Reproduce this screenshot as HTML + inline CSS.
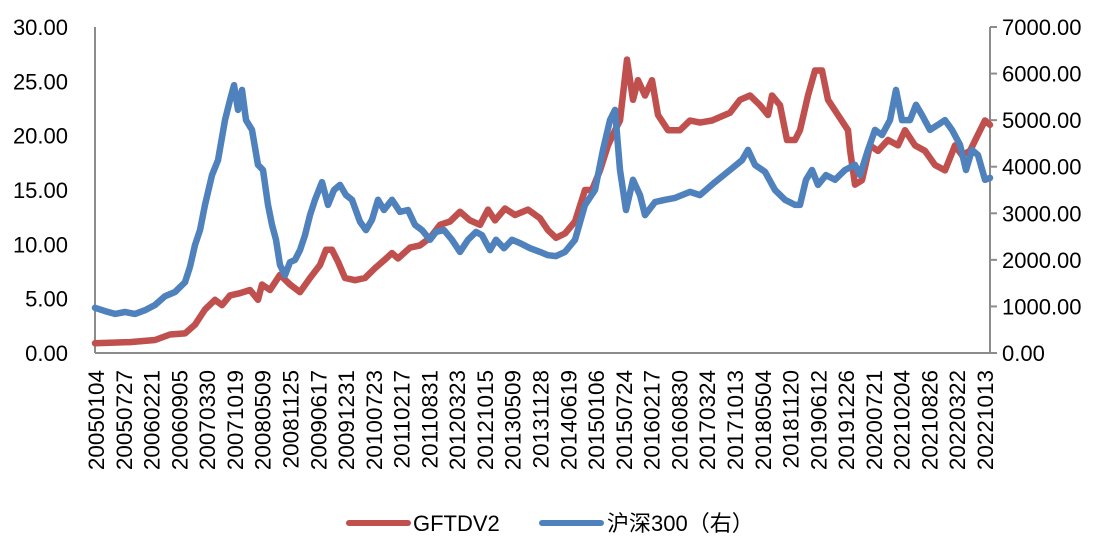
<!DOCTYPE html>
<html><head><meta charset="utf-8"><style>
html,body{margin:0;padding:0;background:#fff;}
svg{display:block;font-family:"Liberation Sans","Noto Sans CJK SC",sans-serif;}
</style></head><body>
<svg id="chart" width="1113" height="546" viewBox="0 0 1113 546"></svg>
<script>
const dateLabels=["20050104","20050727","20060221","20060905","20070330","20071019","20080509","20081125","20090617","20091231","20100723","20110217","20110831","20120323","20121015","20130509","20131128","20140619","20150106","20150724","20160217","20160830","20170324","20171013","20180504","20181120","20190612","20191226","20200721","20210204","20210826","20220322","20221013"];
const leftTicks=[0,5,10,15,20,25,30];
const rightTicks=[0,1000,2000,3000,4000,5000,6000,7000];
const gfYears=[2005.0,2005.7,2006.2,2006.5,2006.8,2007.0,2007.2,2007.4,2007.54,2007.7,2007.9,2008.1,2008.26,2008.34,2008.5,2008.7,2008.9,2009.1,2009.3,2009.5,2009.62,2009.74,2009.86,2010.0,2010.2,2010.4,2010.6,2010.8,2010.94,2011.06,2011.3,2011.5,2011.7,2011.9,2012.1,2012.3,2012.5,2012.7,2012.86,2013.0,2013.2,2013.4,2013.66,2013.9,2014.06,2014.22,2014.4,2014.6,2014.8,2014.94,2015.1,2015.26,2015.4,2015.5,2015.64,2015.76,2015.86,2016.0,2016.14,2016.26,2016.46,2016.7,2016.9,2017.1,2017.34,2017.7,2017.9,2018.1,2018.3,2018.46,2018.54,2018.7,2018.84,2019.0,2019.1,2019.26,2019.4,2019.54,2019.66,2019.86,2020.06,2020.1,2020.2,2020.34,2020.5,2020.66,2020.86,2021.06,2021.2,2021.4,2021.6,2021.8,2022.0,2022.2,2022.34,2022.5,2022.66,2022.8,2022.9];
const gfValues=[0.9,1.0,1.2,1.7,1.8,2.6,4.0,4.9,4.4,5.3,5.5,5.8,4.9,6.3,5.8,7.2,6.3,5.6,6.9,8.1,9.5,9.5,8.4,6.9,6.7,6.9,7.8,8.6,9.2,8.7,9.7,9.9,10.6,11.8,12.1,13.0,12.2,11.8,13.2,12.2,13.3,12.7,13.2,12.4,11.3,10.6,11.0,12.1,15.0,15.0,16.8,19.1,20.5,21.4,27.0,23.3,25.1,23.7,25.1,21.9,20.5,20.5,21.4,21.2,21.4,22.1,23.3,23.7,22.8,21.9,23.7,22.8,19.6,19.6,20.5,23.7,26.0,26.0,23.3,21.9,20.5,18.7,15.5,15.9,19.1,18.6,19.6,19.1,20.5,19.1,18.6,17.3,16.8,19.1,18.2,18.6,20.1,21.4,21.0];
const hsYears=[2005.0,2005.2,2005.4,2005.6,2005.8,2006.0,2006.2,2006.4,2006.6,2006.8,2006.9,2007.0,2007.1,2007.2,2007.34,2007.46,2007.6,2007.7,2007.78,2007.86,2007.94,2008.02,2008.14,2008.26,2008.36,2008.46,2008.54,2008.62,2008.7,2008.8,2008.9,2009.0,2009.1,2009.2,2009.3,2009.4,2009.54,2009.66,2009.78,2009.9,2010.02,2010.14,2010.3,2010.42,2010.54,2010.66,2010.78,2010.94,2011.1,2011.26,2011.4,2011.54,2011.7,2011.82,2011.98,2012.14,2012.3,2012.46,2012.62,2012.74,2012.9,2013.02,2013.18,2013.34,2013.5,2013.7,2013.9,2014.06,2014.22,2014.4,2014.6,2014.8,2015.0,2015.16,2015.3,2015.4,2015.5,2015.62,2015.76,2015.9,2016.0,2016.2,2016.4,2016.6,2016.9,2017.1,2017.4,2017.7,2017.94,2018.06,2018.2,2018.4,2018.6,2018.8,2019.0,2019.1,2019.22,2019.34,2019.46,2019.62,2019.8,2020.0,2020.2,2020.3,2020.46,2020.6,2020.74,2020.9,2021.02,2021.14,2021.3,2021.42,2021.54,2021.7,2021.86,2022.0,2022.14,2022.3,2022.42,2022.54,2022.66,2022.8,2022.9];
const hsValues=[970,900,840,880,840,920,1030,1220,1310,1520,1850,2320,2640,3180,3820,4140,5000,5430,5750,5220,5650,5000,4790,4040,3930,3180,2750,2430,1890,1670,1950,2000,2210,2530,2960,3290,3670,3180,3500,3610,3390,3290,2820,2640,2860,3290,3070,3290,3030,3070,2750,2640,2430,2600,2640,2430,2170,2430,2600,2530,2210,2430,2250,2430,2360,2250,2170,2100,2080,2170,2430,3180,3500,4360,5000,5220,3930,3070,3720,3390,2960,3240,3290,3330,3460,3390,3670,3930,4140,4360,4040,3890,3500,3290,3180,3180,3720,3930,3610,3820,3720,3930,4040,3820,4360,4790,4680,5000,5650,5000,5000,5330,5110,4790,4900,5000,4790,4470,3930,4360,4250,3720,3760];

const NS="http://www.w3.org/2000/svg";
const svg=document.getElementById('chart');
const X0=95,X1=990,Y0=353,Y1=27;
const xYear=y=>X0+(y-2005.0)*(X1-X0)/17.9;
const yLeft=v=>Y0-v*(Y0-Y1)/30;
const yRight=v=>Y0-v*(Y0-Y1)/7000;
function mk(tag,attrs,parent){const e=document.createElementNS(NS,tag);for(const k in attrs)e.setAttribute(k,attrs[k]);(parent||svg).appendChild(e);return e;}

const la=mk('line',{x1:X0,y1:Y1,x2:X0,y2:Y0,stroke:'#8c8c8c','stroke-width':2});


const ra=mk('line',{x1:X1,y1:Y1,x2:X1,y2:Y0,stroke:'#8c8c8c','stroke-width':2});


const xa=mk('line',{x1:X0,y1:Y0,x2:X1+7,y2:Y0,stroke:'#8c8c8c','stroke-width':2});



leftTicks.forEach(v=>{
  const t=mk('text',{x:68,y:yLeft(v)+8,'text-anchor':'end','font-size':22,fill:'#000'});
  t.textContent=v.toFixed(2);
  
  
});
rightTicks.forEach(v=>{
  const tk=mk('line',{x1:X1,y1:yRight(v),x2:X1+7,y2:yRight(v),stroke:'#8c8c8c','stroke-width':2});
  
  
  const t=mk('text',{x:1002,y:yRight(v)+8,'text-anchor':'start','font-size':22,fill:'#000'});
  t.textContent=v.toFixed(2);
  
  
});
const step=(985-96)/(dateLabels.length-1);
dateLabels.forEach((d,i)=>{
  const cx=96+i*step+8;
  const t=mk('text',{x:0,y:0,transform:`translate(${cx},370) rotate(-90)`,'text-anchor':'end','font-size':22.5,fill:'#000'});
  t.textContent=d;
  
  
});

function series(years,vals,yf,color,name){
  const d=years.map((y,i)=>(i?'L':'M')+xYear(y).toFixed(1)+','+yf(vals[i]).toFixed(1)).join(' ');
  const p=mk('path',{d:d,fill:'none',stroke:color,'stroke-width':6.5,'stroke-linejoin':'round','stroke-linecap':'round'});
  
  
}
series(gfYears,gfValues,yLeft,'#c0504d','gftdv2-line');
series(hsYears,hsValues,yRight,'#4f81bd','csi300-line');

const l1=mk('line',{x1:349,y1:523,x2:408,y2:523,stroke:'#c0504d','stroke-width':6,'stroke-linecap':'round'});


const t1=mk('text',{x:413,y:531,'font-size':22,fill:'#000'});t1.textContent='GFTDV2';


const l2=mk('line',{x1:542,y1:523,x2:601,y2:523,stroke:'#4f81bd','stroke-width':6,'stroke-linecap':'round'});


const t2=mk('text',{x:607,y:531,'font-size':22,fill:'#000'});t2.textContent='沪深300（右）';


</script>
</body></html>
